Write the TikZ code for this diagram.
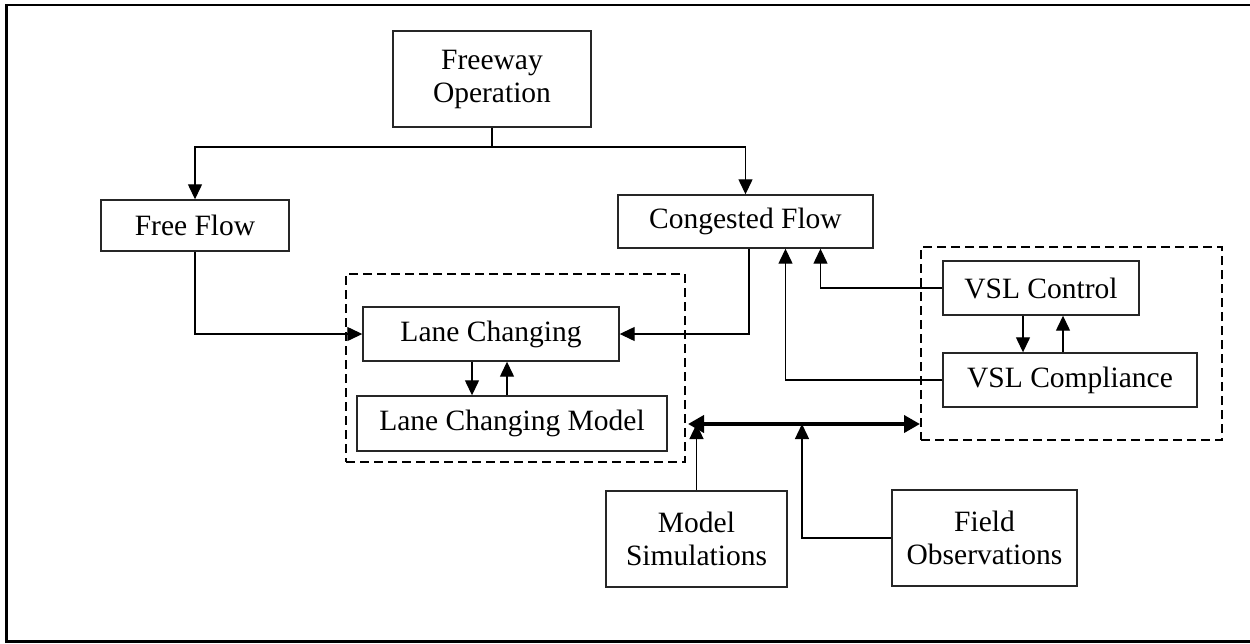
\documentclass[tikz,border=0pt]{standalone}
\usepackage{fontspec}
\setmainfont{Liberation Serif}
\usetikzlibrary{arrows.meta,positioning}

\begin{document}
\begin{tikzpicture}[x=1pt,y=-1pt,>={Triangle[length=15pt,width=14pt]},
font=\fontsize{29.5}{33}\selectfont,
box/.style={draw=black!85,line width=1.4pt,align=center,inner sep=0pt},
group/.style={draw,dashed,dash pattern=on 9pt off 5pt,line width=2.6pt,inner sep=0pt},
link/.style={line width=1.3pt}]
\useasboundingbox (0,0) rectangle (1250,643);
\draw[line width=2.4pt] (1252,5) -| (6.5,641.5) -- (1252,641.5);
% dashed groups
\node[group,minimum width=339pt,minimum height=188pt] (lcgrp) at (515.5,368) {};
\node[group,minimum width=301pt,minimum height=193pt] (vslgrp) at (1071.5,343.5) {};
% boxes
\node[box,minimum width=198pt,minimum height=96pt] (fo) at (492,79) {Freeway\\Operation};
\node[box,minimum width=188pt,minimum height=51pt] (ff) at (195,225.5) {Free Flow};
\node[box,minimum width=255pt,minimum height=53pt] (cf) at (745.5,221.5) {Congested Flow};
\node[box,minimum width=256pt,minimum height=54pt] (lc) at (491,334) {Lane Changing};
\node[box,minimum width=310pt,minimum height=55pt] (lcm) at (512,423.5) {Lane Changing Model};
\node[box,minimum width=196pt,minimum height=54pt] (vc) at (1041,288) {VSL Control};
\node[box,minimum width=254pt,minimum height=54pt] (vcp) at (1070,380) {VSL Compliance};
\node[box,minimum width=181pt,minimum height=96pt] (ms) at (696.5,539) {Model\\Simulations};
\node[box,minimum width=185pt,minimum height=96pt] (fob) at (984.5,538) {Field\\Observations};
\coordinate (split) at (492,147);
\coordinate (busl) at (688,424);
\coordinate (busr) at (920,424);
\coordinate (tap) at (802,424);
% connectors
\draw[link] (fo.south) -- (split);
\draw[link,->] (split) -| (ff.north);
\draw[link,->] (split) -| (cf.north);
\draw[link,->] (ff.south) |- (lc.west);
\draw[link,->] ([xshift=3.5pt]cf.south) |- (lc.east);
\draw[link,->] (vc.west) -| ([xshift=75pt]cf.south);
\draw[link,->] (vcp.west) -| ([xshift=40pt]cf.south);
\draw[link,->] ([xshift=-19pt]lc.south) -- ([xshift=-19pt]lc.south |- lcm.north);
\draw[link,<-] ([xshift=16pt]lc.south) -- ([xshift=16pt]lc.south |- lcm.north);
\draw[link,->] ([xshift=-18pt]vc.south) -- ([xshift=-18pt]vc.south |- vcp.north);
\draw[link,<-] ([xshift=22pt]vc.south) -- ([xshift=22pt]vc.south |- vcp.north);
\draw[line width=3.8pt,{Triangle[length=16pt,width=17pt]}-{Triangle[length=16pt,width=17pt]}] (busl) -- (busr);
\draw[link,->] (ms.north) -- (ms.north |- busl);
\draw[link,->] (fob.west) -| (tap);
\end{tikzpicture}
\end{document}
